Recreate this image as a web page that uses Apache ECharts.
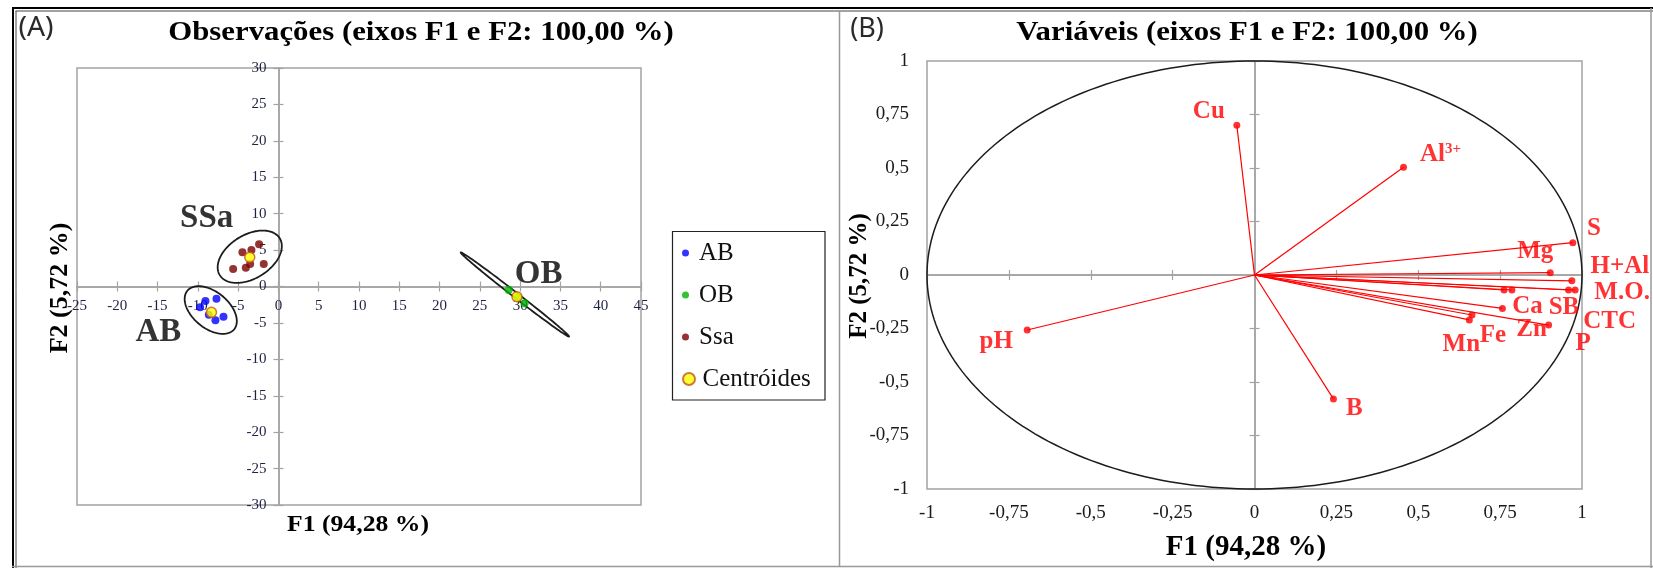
<!DOCTYPE html>
<html>
<head>
<meta charset="utf-8">
<script src="https://cdn.jsdelivr.net/npm/echarts@6/dist/echarts.min.js"></script>
<style>
html,body{margin:0;padding:0;background:#fff}
#chart{width:1653px;height:568px}
</style>
</head>
<body>
<div id="chart"></div>
<script>
// ---------- (A) Observations: scores on F1 / F2 ----------
const abScores  = [[-7.69,-1.67],[-9.06,-1.99],[-9.72,-2.86],[-8.64,-3.87],[-7.82,-4.65],[-6.82,-4.14]];
const obScores  = [[28.58,-0.48],[29.7,-1.5],[30.56,-2.31]];
const ssaScores = [[-5.62,2.40],[-4.47,4.69],[-4.05,2.59],[-3.51,3.09],[-3.35,5.01],[-2.40,5.79],[-1.82,3.09]];
const centroidScores = [[-8.31,-3.55],[29.61,-1.40],[-3.56,4.01]];

// confidence ellipses per group: centre, tip of the major semi-axis, minor/major ratio
const ellipseCentres   = [[-8.4,-3.23],[29.35,-1.1],[-3.56,4.09]];
const ellipseMajorTips = [[-5.5,-5.88],[36.07,-6.87],[0.16,6.62]];
const ellipseRatios    = [0.6,0.037,0.62];
const groupNames = ['AB','OB','SSa'];

// axis ranges
const obsX = {min:-25, max:45, step:5};
const obsY = {min:-30, max:30, step:5};

// ---------- (B) Variables: loadings on F1 / F2 ----------
const varNames = ['Cu','Al3+','B','pH','S','Mg','H+Al','M.O.','CTC','SB','P','Ca','Zn','Fe','Mn'];
const varF1 = [-0.054,0.455,0.241,-0.694,0.972,0.903,0.969,0.979,0.959,0.786,0.762,0.757,0.898,0.664,0.656];
const varF2 = [0.700,0.503,-0.579,-0.257,0.151,0.011,-0.027,-0.070,-0.070,-0.070,-0.070,-0.156,-0.234,-0.187,-0.210];
const varAxis = {min:-1, max:1, step:0.25};

// ---------- styling / layout ----------
const SERIF = '"Liberation Serif","Times New Roman",serif';
const SANS = '"Noto Sans","Open Sans",sans-serif';
const AXIS_GREY = '#a3a3a3';
const RED = '#ff0000';

const obsGrid = {left:77, top:68, width:564, height:437};
const varGrid = {left:927, top:61, width:655, height:428};

// axes of panel A cross at zero inside the plot: shift them there
const obsXShift = -obsGrid.height * (0 - obsY.min) / (obsY.max - obsY.min);
const obsYShift = -obsGrid.width * (0 - obsX.min) / (obsX.max - obsX.min);

// where each group name sits (data coords of panel A)
const groupNameSpots = {AB:[-14.9,-6.25], OB:[32.3,1.7], SSa:[-8.9,9.4]};
// pixel shift of each variable label from its point
const varLabelShift = {
  'Cu':[-28,-14],'Al3+':[37,-13],'B':[21,10],'pH':[-31,12],'S':[21,-14],'Mg':[-15,-21],
  'H+Al':[48,-14],'M.O.':[47,3],'CTC':[41,32],'SB':[52,18],'P':[79,54],'Ca':[25,-2],
  'Zn':[-17,4],'Fe':[21,21],'Mn':[-8,25]
};

const commaFmt = v => String(v).replace('.', ',');

function valueAxis(grid, r, extra) {
  return Object.assign({
    type:'value', gridIndex:grid, min:r.min, max:r.max, interval:r.step,
    splitLine:{show:false}
  }, extra);
}

const chart = echarts.init(document.getElementById('chart'), null, {renderer:'canvas'});

const obsLabel = {fontFamily:SERIF, fontSize:15, color:'#1e2140', margin:12, showMinLabel:true, showMaxLabel:true};
const greyLine = {show:true, onZero:false, lineStyle:{color:AXIS_GREY, width:1.5}};
const zeroLine = {show:true, onZero:true, lineStyle:{color:AXIS_GREY, width:1.5}};
const tickOut = {show:true, length:5, lineStyle:{color:AXIS_GREY, width:1.2}};
const tickIn  = {show:true, inside:true, length:5, lineStyle:{color:AXIS_GREY, width:1.2}};

const option = {
  animation:false,
  backgroundColor:'#fff',
  grid:[
    Object.assign({show:true, borderColor:AXIS_GREY, borderWidth:1.5, backgroundColor:'transparent', outerBoundsMode:'none'}, obsGrid),
    Object.assign({show:true, borderColor:AXIS_GREY, borderWidth:1.5, backgroundColor:'transparent', outerBoundsMode:'none'}, varGrid)
  ],
  xAxis:[
    valueAxis(0, obsX, {position:'bottom', offset:obsXShift, axisLine:greyLine, axisTick:tickOut, axisLabel:obsLabel}),
    valueAxis(0, obsX, {position:'bottom', offset:obsXShift, axisLine:greyLine, axisTick:tickIn, axisLabel:{show:false}}),
    valueAxis(1, varAxis, {position:'bottom', axisLine:{show:false, onZero:false}, axisTick:{show:false},
      axisLabel:{fontFamily:SERIF, fontSize:19, color:'#1a1a1a', margin:15, formatter:commaFmt, showMinLabel:true, showMaxLabel:true}}),
    valueAxis(1, varAxis, {position:'bottom', axisLine:Object.assign({onZeroAxisIndex:3}, zeroLine), axisTick:tickOut, axisLabel:{show:false}}),
    valueAxis(1, varAxis, {position:'bottom', axisLine:Object.assign({onZeroAxisIndex:4}, zeroLine), axisTick:tickIn, axisLabel:{show:false}})
  ],
  yAxis:[
    valueAxis(0, obsY, {position:'left', offset:obsYShift, axisLine:greyLine, axisTick:tickOut, axisLabel:obsLabel}),
    valueAxis(0, obsY, {position:'left', offset:obsYShift, axisLine:greyLine, axisTick:tickIn, axisLabel:{show:false}}),
    valueAxis(1, varAxis, {position:'left', axisLine:{show:false, onZero:false}, axisTick:{show:false},
      axisLabel:{fontFamily:SERIF, fontSize:19, color:'#1a1a1a', margin:18, formatter:commaFmt, showMinLabel:true, showMaxLabel:true}}),
    valueAxis(1, varAxis, {position:'left', axisLine:Object.assign({onZeroAxisIndex:3}, zeroLine), axisTick:tickOut, axisLabel:{show:false}}),
    valueAxis(1, varAxis, {position:'left', axisLine:Object.assign({onZeroAxisIndex:4}, zeroLine), axisTick:tickIn, axisLabel:{show:false}})
  ],
  legend:[
    {data:['AB','OB','Ssa'], orient:'vertical', left:682, top:239, itemWidth:17, itemHeight:7, itemGap:14,
     icon:'circle', selectedMode:false, padding:0,
     textStyle:{fontFamily:SERIF, fontSize:25, color:'#111', lineHeight:28}},
    {data:['Centróides'], orient:'vertical', left:682, top:365, itemWidth:17, itemHeight:12,
     icon:'circle', selectedMode:false, padding:0,
     textStyle:{fontFamily:SERIF, fontSize:25, color:'#111', lineHeight:28}}
  ],
  series:[
    // group ellipses
    {type:'custom', name:'ellipses', xAxisIndex:0, yAxisIndex:0, data:ellipseCentres, z:2, silent:true,
     renderItem(params, api){
       const i = params.dataIndex;
       const c = api.coord(ellipseCentres[i]);
       const e = api.coord(ellipseMajorTips[i]);
       const ux = e[0]-c[0], uy = e[1]-c[1];
       const a = Math.hypot(ux, uy), b = a*ellipseRatios[i];
       const ca = ux/a, sa = uy/a;
       const pts = [];
       for (let k=0; k<=160; k++) {
         const t = 2*Math.PI*k/160, p = a*Math.cos(t), q = b*Math.sin(t);
         pts.push([c[0]+p*ca-q*sa, c[1]+p*sa+q*ca]);
       }
       return {type:'polygon', shape:{points:pts}, style:{fill:'none', stroke:'#1c1c1c', lineWidth:1.8}};
     }},
    {type:'scatter', name:'AB', xAxisIndex:0, yAxisIndex:0, data:abScores, symbolSize:8, z:3,
     itemStyle:{color:'#0000ff'}},
    {type:'scatter', name:'OB', xAxisIndex:0, yAxisIndex:0, data:obScores, symbolSize:8, z:3,
     itemStyle:{color:'#00b400'}},
    {type:'scatter', name:'Ssa', xAxisIndex:0, yAxisIndex:0, data:ssaScores, symbolSize:8, z:3,
     itemStyle:{color:'#7a0000'}},
    {type:'scatter', name:'Centróides', xAxisIndex:0, yAxisIndex:0, data:centroidScores, symbolSize:10, z:4,
     itemStyle:{color:'#ffff00', borderColor:'#c2571a', borderWidth:1.5}},
    // group names
    {type:'scatter', name:'groupNames', xAxisIndex:0, yAxisIndex:0, symbolSize:1, z:5, silent:true,
     itemStyle:{color:'rgba(0,0,0,0)'},
     data:groupNames.map(n => ({name:n, value:groupNameSpots[n]})),
     label:{show:true, position:'inside', formatter:'{b}', fontFamily:SERIF, fontSize:33, fontWeight:'bold', color:'#000'}},

    // correlation circle
    {type:'custom', name:'circle', xAxisIndex:2, yAxisIndex:2, data:[[0,0]], z:2, silent:true,
     renderItem(params, api){
       const pts = [];
       for (let k=0; k<=240; k++) {
         const t = 2*Math.PI*k/240;
         pts.push(api.coord([Math.cos(t), Math.sin(t)]));
       }
       return {type:'polyline', shape:{points:pts}, style:{fill:null, stroke:'#1c1c1c', lineWidth:1.5}};
     }},
    // loading vectors
    {type:'custom', name:'vectors', xAxisIndex:2, yAxisIndex:2, z:3, silent:true,
     data:varF1.map((x,i) => [x, varF2[i]]),
     renderItem(params, api){
       const o = api.coord([0,0]);
       const p = api.coord([api.value(0), api.value(1)]);
       return {type:'line', shape:{x1:o[0], y1:o[1], x2:p[0], y2:p[1]}, style:{stroke:RED, lineWidth:1.2}};
     }},
    {type:'scatter', name:'variables', xAxisIndex:2, yAxisIndex:2, symbolSize:7, z:4, silent:true,
     itemStyle:{color:RED},
     data:varNames.map((n,i) => ({name:n, value:[varF1[i], varF2[i]], label:{offset:varLabelShift[n]}})),
     label:{show:true, position:'inside',
       formatter: p => p.name === 'Al3+' ? '{m|Al}{s|3+}' : '{m|' + p.name + '}',
       rich:{
         m:{fontFamily:SERIF, fontSize:25, fontWeight:'bold', color:RED},
         s:{fontFamily:SERIF, fontSize:15, fontWeight:'bold', color:RED, verticalAlign:'top'}
       }}}
  ],
  graphic:[
    // frame and panel divider
    {type:'line', shape:{x1:12, y1:8, x2:1653, y2:8}, style:{stroke:'#000', lineWidth:2}},
    {type:'line', shape:{x1:13, y1:7, x2:13, y2:568}, style:{stroke:'#000', lineWidth:2}},
    {type:'line', shape:{x1:15.5, y1:11, x2:1653, y2:11}, style:{stroke:'#444', lineWidth:1}},
    {type:'line', shape:{x1:16, y1:11, x2:16, y2:568}, style:{stroke:'#444', lineWidth:1}},
    {type:'line', shape:{x1:12, y1:566.5, x2:1653, y2:566.5}, style:{stroke:'#999', lineWidth:1.5}},
    {type:'line', shape:{x1:1651, y1:8, x2:1651, y2:568}, style:{stroke:'#999', lineWidth:1.5}},
    {type:'line', shape:{x1:839.5, y1:11, x2:839.5, y2:566}, style:{stroke:'#999', lineWidth:1.5}},
    // legend box
    {type:'rect', shape:{x:672.5, y:231.5, width:152.5, height:168.5}, style:{fill:'none', stroke:'#222', lineWidth:1.2}},
    // panel letters and titles
    {type:'text', x:36, y:28, style:{text:'(A)', fontFamily:SANS, fontSize:27, fill:'#2a2a2a', align:'center', verticalAlign:'middle'}, scaleX:1.05},
    {type:'text', x:867, y:29, style:{text:'(B)', fontFamily:SANS, fontSize:27, fill:'#2a2a2a', align:'center', verticalAlign:'middle'}},
    {type:'text', x:421, y:33, scaleX:1.1, style:{text:'Observações (eixos F1 e F2: 100,00 %)', fontFamily:SERIF, fontWeight:'bold', fontSize:28, fill:'#000', align:'center', verticalAlign:'middle'}},
    {type:'text', x:1247, y:33, scaleX:1.1, style:{text:'Variáveis (eixos F1 e F2: 100,00 %)', fontFamily:SERIF, fontWeight:'bold', fontSize:28, fill:'#000', align:'center', verticalAlign:'middle'}},
    // axis titles
    {type:'text', x:358, y:525, scaleX:1.07, style:{text:'F1 (94,28 %)', fontFamily:SERIF, fontWeight:'bold', fontSize:24, fill:'#000', align:'center', verticalAlign:'middle'}},
    {type:'text', x:60, y:288, rotation:Math.PI/2, style:{text:'F2 (5,72 %)', fontFamily:SERIF, fontWeight:'bold', fontSize:26, fill:'#000', align:'center', verticalAlign:'middle'}},
    {type:'text', x:1246, y:548, style:{text:'F1 (94,28 %)', fontFamily:SERIF, fontWeight:'bold', fontSize:29, fill:'#000', align:'center', verticalAlign:'middle'}},
    {type:'text', x:860, y:276, rotation:Math.PI/2, style:{text:'F2 (5,72 %)', fontFamily:SERIF, fontWeight:'bold', fontSize:25, fill:'#000', align:'center', verticalAlign:'middle'}}
  ]
};

chart.setOption(option);
</script>
</body>
</html>
